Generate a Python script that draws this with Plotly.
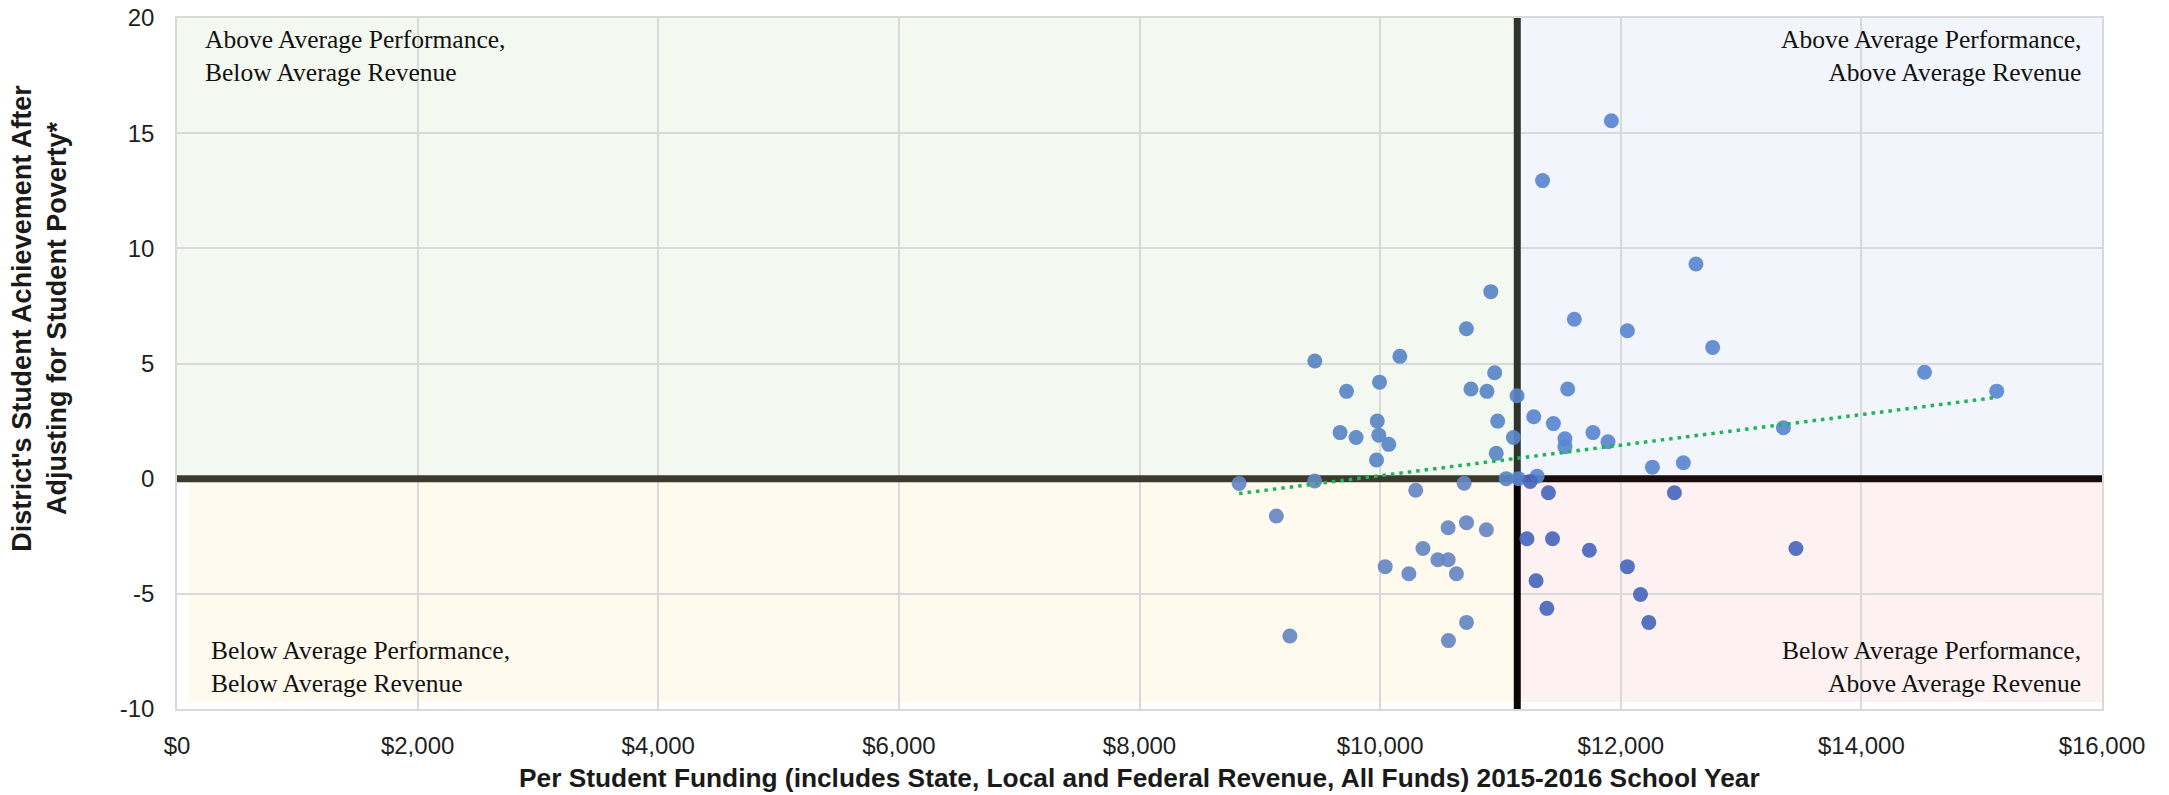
import numpy as np
import plotly.graph_objects as go

# Per student funding ($) and adjusted achievement, grouped by quadrant
ul_funding = [10920, 10717, 9457, 10164, 10952, 9995, 9721, 10755, 10888, 11138,
              9976, 10977, 9667, 9800, 9989, 10072, 11108, 9970, 10965, 11048]
ul_score = [8.12, 6.51, 5.11, 5.31, 4.60, 4.19, 3.79, 3.89, 3.79, 3.60,
            2.50, 2.50, 2.00, 1.79, 1.89, 1.49, 1.79, 0.81, 1.10, 0.0]

ur_funding = [11922, 11350, 12625, 11614, 12055, 12764, 11559, 11277, 11440, 11536,
              11536, 11769, 11894, 12263, 12520, 13352, 14525, 15125, 11305, 11150]
ur_score = [15.54, 12.94, 9.32, 6.92, 6.42, 5.70, 3.89, 2.69, 2.39, 1.73,
            1.39, 2.00, 1.60, 0.50, 0.69, 2.21, 4.62, 3.80, 0.11, 0.0]

ll_funding = [8828, 9456, 10296, 10698, 9137, 10565, 10718, 10883, 10356, 10480,
              10566, 10042, 10239, 10634, 10718, 9250, 10568]
ll_score = [-0.21, -0.10, -0.50, -0.20, -1.62, -2.13, -1.91, -2.22, -3.03, -3.52,
            -3.52, -3.82, -4.13, -4.13, -6.24, -6.83, -7.03]

lr_funding = [11247, 11399, 12446, 11220, 11433, 11739, 12055, 11296, 12164, 11386,
              12233, 13456]
lr_score = [-0.12, -0.61, -0.61, -2.61, -2.61, -3.11, -3.82, -4.43, -5.03, -5.63,
            -6.24, -3.03]

y_ticks = [-10, -5, 0, 5, 10, 15, 20]

AVG_FUNDING = 11140
AVG_SCORE = 0
X_MAX = 16000
Y_MIN, Y_MAX = -10, 20

quadrants = [
    (ul_funding, ul_score, "#5A86C6"),
    (ur_funding, ur_score, "#5A87CF"),
    (ll_funding, ll_score, "#6687C2"),
    (lr_funding, lr_score, "#4A67BE"),
]

fig = go.Figure()
for xs, ys, color in quadrants:
    fig.add_trace(go.Scatter(
        x=xs, y=ys, mode="markers",
        marker=dict(size=15, color=color, opacity=0.92),
        showlegend=False, hoverinfo="x+y",
    ))

# linear trendline over all districts
all_x = np.array(ul_funding + ur_funding + ll_funding + lr_funding, dtype=float)
all_y = np.array(ul_score + ur_score + ll_score + lr_score, dtype=float)
slope, intercept = np.polyfit(all_x, all_y, 1)
tx = np.array([all_x.min(), all_x.max()])
fig.add_trace(go.Scatter(
    x=tx, y=slope * tx + intercept, mode="lines",
    line=dict(color="#1FB45A", width=3.5, dash="3.5px,5px"),
    showlegend=False, hoverinfo="skip",
))

# quadrant backgrounds
bg = [
    (0, AVG_FUNDING, AVG_SCORE, Y_MAX, "#F3F8F0"),
    (AVG_FUNDING, X_MAX, AVG_SCORE, Y_MAX, "#F2F5FB"),
    (100, AVG_FUNDING, -9.7, AVG_SCORE, "#FFF9EE"),
    (AVG_FUNDING, X_MAX, -9.7, AVG_SCORE, "#FEF1F1"),
]
for x0, x1, y0, y1, c in bg:
    fig.add_shape(type="rect", x0=x0, x1=x1, y0=y0, y1=y1,
                  fillcolor=c, line_width=0, layer="below")

# average lines
for x0, x1, y0, y1, c in [
    (0, AVG_FUNDING, AVG_SCORE, AVG_SCORE, "#3B3A2C"),
    (AVG_FUNDING, X_MAX, AVG_SCORE, AVG_SCORE, "#1A0D0D"),
    (AVG_FUNDING, AVG_FUNDING, AVG_SCORE, Y_MAX, "#2E332E"),
    (AVG_FUNDING, AVG_FUNDING, Y_MIN, AVG_SCORE, "#0D0505"),
]:
    fig.add_shape(type="line", x0=x0, x1=x1, y0=y0, y1=y1,
                  line=dict(color=c, width=7), layer="between")

label_font = dict(family="Liberation Serif, Times New Roman, serif", size=25.5, color="#111")
for text, x, y, xa, ya, al in [
    ("Above Average Performance,<br>Below Average Revenue", 0.0135, 0.993, "left", "top", "left"),
    ("Above Average Performance,<br>Above Average Revenue", 0.990, 0.993, "right", "top", "right"),
    ("Below Average Performance,<br>Below Average Revenue", 0.0165, 0.013, "left", "bottom", "left"),
    ("Below Average Performance,<br>Above Average Revenue", 0.990, 0.013, "right", "bottom", "right"),
]:
    fig.add_annotation(text=text, x=x, y=y, xref="paper", yref="paper",
                       xanchor=xa, yanchor=ya, align=al, showarrow=False,
                       font=label_font)

title_font = dict(family="Liberation Sans, Arial, sans-serif", size=26.3, color="#1a1a1a", weight="bold")
fig.add_annotation(
    text="Per Student Funding (includes State, Local and Federal Revenue, All Funds) 2015-2016 School Year",
    x=0.5, y=-0.0999, xref="paper", yref="paper", xanchor="center", yanchor="middle",
    showarrow=False, font=title_font,
)
fig.add_annotation(
    text="District's Student Achievement After<br>Adjusting for Student Poverty*",
    x=-0.0712, y=0.566, xref="paper", yref="paper", xanchor="center", yanchor="middle",
    textangle=-90, showarrow=False, font=dict(title_font, size=27),
)

tick_font = dict(family="Liberation Sans, Arial, sans-serif", size=24, color="#1f1f1f")
fig.update_xaxes(
    range=[0, X_MAX], dtick=2000, tickprefix="$", tickformat=",d",
    showgrid=True, gridcolor="#D9D9D9", gridwidth=1.5,
    showline=True, linecolor="#D9D9D9", linewidth=1.5, mirror=True,
    zeroline=False, ticks="", ticklabelstandoff=14, tickfont=tick_font,
    ticklabeloverflow="allow", automargin=False,
)
fig.update_yaxes(
    range=[Y_MIN, Y_MAX], tickvals=y_ticks, ticktext=[str(v) for v in y_ticks],
    showgrid=True, gridcolor="#D9D9D9", gridwidth=1.5,
    showline=True, linecolor="#D9D9D9", linewidth=1.5, mirror=True,
    zeroline=False, ticks="", ticklabelstandoff=16, tickfont=tick_font,
    ticklabeloverflow="allow", automargin=False,
)
# page body has an 8px margin, so the figure is shrunk by that much
fig.update_layout(
    width=2161, height=787,
    margin=dict(l=169, r=67, t=10, b=86),
    plot_bgcolor="white", paper_bgcolor="white",
    showlegend=False,
)

fig.write_html("out.html")
